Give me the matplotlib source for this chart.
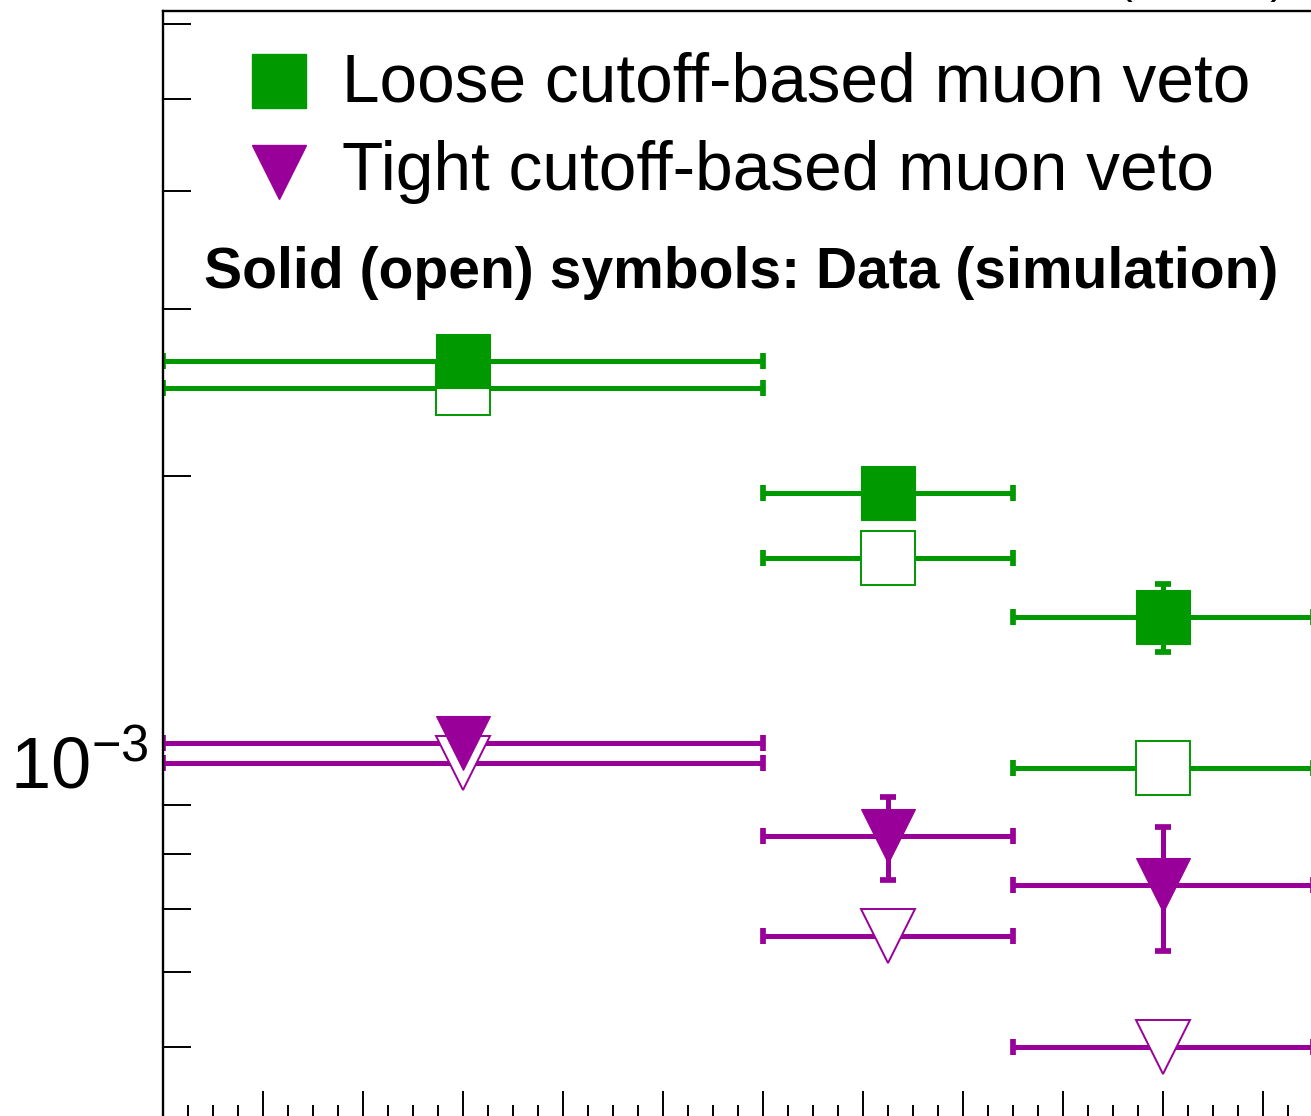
"""Muon veto rates, loose vs tight cutoff, data vs simulation (cropped ROOT-style plot)."""

import matplotlib
matplotlib.use("Agg")
import matplotlib.pyplot as plt
from matplotlib.ticker import FixedLocator, NullFormatter
import numpy as np

plt.rcParams["font.family"] = ["Liberation Sans", "DejaVu Sans"]
plt.rcParams["mathtext.fontset"] = "custom"
plt.rcParams["mathtext.rm"] = "Liberation Sans"
plt.rcParams["mathtext.it"] = "Liberation Sans:italic"
plt.rcParams["mathtext.bf"] = "Liberation Sans:bold"

# ── data ─────────────────────────────────────────────
bin_edges = np.array([0.0, 6.0, 8.5, 11.5])
bin_centers = 0.5 * (bin_edges[:-1] + bin_edges[1:])
bin_halfwidths = 0.5 * np.diff(bin_edges)

loose_data = np.array([2.647e-3, 1.919e-3, 1.422e-3])
loose_data_err = np.array([0.05e-3, 0.06e-3, 0.116e-3])
loose_sim = np.array([2.479e-3, 1.639e-3, 0.984e-3])

tight_data = np.array([1.046e-3, 0.834e-3, 0.742e-3])
tight_data_err = np.array([0.03e-3, 0.084e-3, 0.111e-3])
tight_sim = np.array([0.996e-3, 0.655e-3, 0.500e-3])

legend_labels = ["Loose cutoff-based muon veto", "Tight cutoff-based muon veto"]
note_text = "Solid (open) symbols: Data (simulation)"

GREEN = "#009900"
PURPLE = "#990099"

W, H = 1311, 1116


def px(x, y):
    """pixel (from top-left) -> figure fraction"""
    return x / W, 1 - y / H


fig = plt.figure(figsize=(W / 100, H / 100), dpi=100)
fig.patch.set_facecolor("white")

# axes run past the right and bottom edges (cropped picture)
x0, y_top = px(163.3, 11)
_, y_bot = px(0, 1119)
ax = fig.add_axes([x0, y_bot, 1200 / W, y_top - y_bot])
ax.set_xlim(0, 12)
ax.set_yscale("log")
ax.set_ylim(4.2e-4, 6.19e-3)

err_kw = dict(fmt="none", elinewidth=3.6, capsize=6.1, capthick=4.1, zorder=2)
ax.errorbar(bin_centers, loose_data, xerr=bin_halfwidths, yerr=loose_data_err, ecolor=GREEN, **err_kw)
ax.errorbar(bin_centers, loose_sim, xerr=bin_halfwidths, ecolor=GREEN, **err_kw)
ax.errorbar(bin_centers, tight_data, xerr=bin_halfwidths, yerr=tight_data_err, ecolor=PURPLE, **err_kw)
ax.errorbar(bin_centers, tight_sim, xerr=bin_halfwidths, ecolor=PURPLE, **err_kw)

# open symbols (simulation) below the solid ones (data)
ax.plot(bin_centers, loose_sim, ls="none", marker="s", ms=38.5, mfc="white", mec=GREEN, mew=1.4, zorder=3)
ax.plot(bin_centers, tight_sim, ls="none", marker="v", ms=38.5, mfc="white", mec=PURPLE, mew=1.4, zorder=3)
ax.plot(bin_centers, loose_data, ls="none", marker="s", ms=38.5, mfc=GREEN, mec=GREEN, mew=0.8, zorder=4)
ax.plot(bin_centers, tight_data, ls="none", marker="v", ms=38.5, mfc=PURPLE, mec=PURPLE, mew=0.8, zorder=4)

# ── axes styling ──
for side in ["right", "bottom"]:
    ax.spines[side].set_visible(False)
for side in ["left", "top"]:
    ax.spines[side].set_linewidth(1.7)

ax.xaxis.set_major_locator(FixedLocator(np.arange(0, 12.01, 1)))
ax.xaxis.set_minor_locator(FixedLocator(np.arange(0, 12.01, 0.25)))
ax.xaxis.set_major_formatter(NullFormatter())
ax.tick_params(axis="x", which="major", direction="in", length=20, width=1.4, top=False)
ax.tick_params(axis="x", which="minor", direction="in", length=10, width=1.4, top=False)

ax.yaxis.set_major_locator(FixedLocator([1e-3]))
minor_y = [m * 10.0 ** e for e in (-4, -3) for m in range(2, 10)]
ax.yaxis.set_minor_locator(FixedLocator(minor_y))
ax.set_yticklabels([r"$10^{-3}$"])
ax.yaxis.set_minor_formatter(NullFormatter())
ax.tick_params(axis="y", which="major", direction="in", length=39.6, width=1.4,
               labelsize=52, pad=11, right=False)
ax.tick_params(axis="y", which="minor", direction="in", length=20, width=1.4, right=False)

# ── legend (drawn by hand, ROOT style) ──
mx, my1 = px(279, 81)
_, my2 = px(279, 172)
ax.plot([mx], [my1], marker="s", ms=38.5, color=GREEN, mec=GREEN, transform=fig.transFigure, clip_on=False)
ax.plot([mx], [my2], marker="v", ms=38.5, color=PURPLE, mec=PURPLE, transform=fig.transFigure, clip_on=False)
fig.text(*px(342, 101), legend_labels[0], fontsize=48.7, va="baseline", ha="left")
fig.text(*px(342, 190), legend_labels[1], fontsize=48.7, va="baseline", ha="left")
fig.text(*px(204, 288), note_text, fontsize=41, fontweight="bold", va="baseline", ha="left")

# header text, almost entirely cut off at the top
fig.text(*px(1285, -6.5), "(13 TeV)", fontsize=32, va="baseline", ha="right")

fig.savefig("out.png", dpi=100, facecolor="white")
